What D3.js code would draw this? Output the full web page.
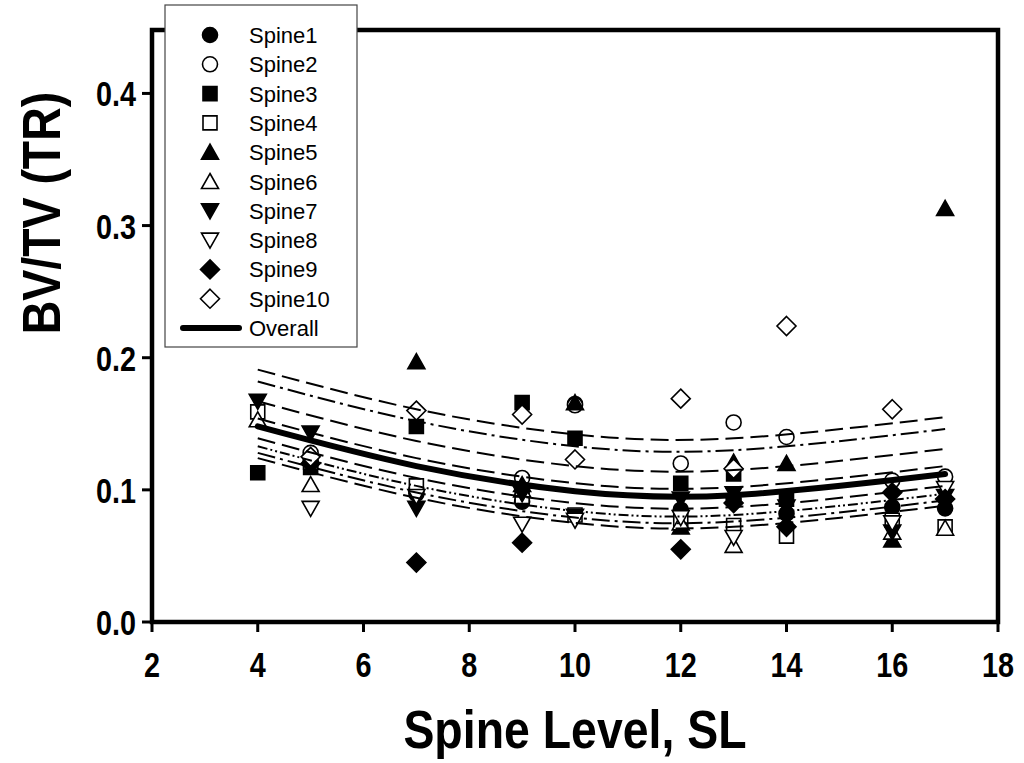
<!DOCTYPE html>
<html>
<head>
<meta charset="utf-8">
<script src="https://cdn.jsdelivr.net/npm/d3@7"></script>
<style>
  body { margin: 0; background: #fff; }
  text { font-family: "Liberation Sans", Arial, sans-serif; }
</style>
</head>
<body>
<div id="chart"></div>
<script>
// spine levels measured
var levels = [4, 5, 7, 9, 10, 12, 13, 14, 16, 17];

// BV/TV per spine at each level (null = no point)
var spine1  = [null, 0.121, 0.097, 0.091, 0.165, 0.085, 0.093, 0.082, 0.087, 0.086];
var spine2  = [null, 0.128, 0.100, 0.109, 0.164, 0.120, 0.151, 0.140, 0.107, 0.110];
var spine3  = [0.113, 0.117, 0.148, 0.166, 0.139, 0.105, 0.112, 0.093, null, null];
var spine4  = [0.159, 0.121, 0.103, 0.095, 0.081, 0.077, 0.073, 0.065, 0.077, 0.072];
var spine5  = [null, null, 0.197, 0.104, 0.166, 0.072, 0.121, 0.120, 0.062, 0.313];
var spine6  = [0.153, 0.104, null, 0.100, null, 0.075, 0.058, null, 0.068, 0.071];
var spine7  = [0.167, 0.143, 0.086, 0.097, 0.080, 0.093, 0.097, 0.087, 0.068, 0.095];
var spine8  = [null, 0.086, 0.095, 0.074, 0.077, 0.079, 0.064, null, 0.075, 0.101];
var spine9  = [null, 0.120, 0.045, 0.060, null, 0.055, 0.090, 0.072, 0.098, 0.093];
var spine10 = [null, 0.125, 0.160, 0.157, 0.123, 0.169, 0.116, 0.224, 0.161, null];

var spineNames = ["Spine1", "Spine2", "Spine3", "Spine4", "Spine5",
                  "Spine6", "Spine7", "Spine8", "Spine9", "Spine10"];
var spineValues = [spine1, spine2, spine3, spine4, spine5,
                   spine6, spine7, spine8, spine9, spine10];

// fitted curves read at these levels
var fitX = [4, 7, 10, 13, 17];
var overallFit = [0.148, 0.118, 0.099, 0.096, 0.112];
var upper1 = [0.191, 0.161, 0.142, 0.139, 0.155];
var upper2 = [0.182, 0.152, 0.133, 0.130, 0.146];
var upper3 = [0.167, 0.137, 0.118, 0.115, 0.131];
var upper4 = [0.154, 0.124, 0.105, 0.102, 0.118];
var lower1 = [0.139, 0.109, 0.090, 0.087, 0.103];
var lower2 = [0.133, 0.103, 0.084, 0.081, 0.097];
var lower3 = [0.128, 0.098, 0.079, 0.076, 0.092];
var lower4 = [0.124, 0.094, 0.075, 0.072, 0.088];

var xTicks = [2, 4, 6, 8, 10, 12, 14, 16, 18];
var yTicks = [0.0, 0.1, 0.2, 0.3, 0.4];

var width = 1024, height = 763;
var margin = {top: 30, right: 26, bottom: 141, left: 152};
var chartWidth = width - margin.left - margin.right;
var chartHeight = height - margin.top - margin.bottom;

var svg = d3.select("#chart").append("svg")
    .attr("width", width)
    .attr("height", height);

var g = svg.append("g")
    .attr("transform", `translate(${margin.left},${margin.top})`);

var x = d3.scaleLinear().domain([2, 18]).range([0, chartWidth]);
var y = d3.scaleLinear().domain([0, 0.448]).range([chartHeight, 0]);

// marker shapes
function shapePath(kind) {
    var p = d3.path();
    if (kind === "circle") {
        p.arc(0, 0, 7.5, 0, 2 * Math.PI);
    } else if (kind === "square") {
        p.rect(-7, -7, 14, 14);
    } else if (kind === "up") {
        p.moveTo(0, -8); p.lineTo(8.5, 7); p.lineTo(-8.5, 7); p.closePath();
    } else if (kind === "down") {
        p.moveTo(0, 8); p.lineTo(8.5, -7); p.lineTo(-8.5, -7); p.closePath();
    } else {
        p.moveTo(0, -9.5); p.lineTo(9.5, 0); p.lineTo(0, 9.5); p.lineTo(-9.5, 0); p.closePath();
    }
    return p.toString();
}
var shapes = ["circle", "circle", "square", "square", "up", "up", "down", "down", "diamond", "diamond"];
var filled = [true, false, true, false, true, false, true, false, true, false];

// points
spineValues.forEach(function(vals, i) {
    var pts = levels.map((l, j) => ({x: l, y: vals[j]})).filter(d => d.y !== null);
    g.selectAll(".s" + i)
        .data(pts)
        .enter().append("path")
        .attr("class", "s" + i)
        .attr("d", shapePath(shapes[i]))
        .attr("transform", d => `translate(${x(d.x)},${y(d.y)})`)
        .attr("fill", filled[i] ? "#000" : "#fff")
        .attr("stroke", "#000")
        .attr("stroke-width", 1.6);
});

// regression lines
var line = d3.line()
    .x(d => x(d[0]))
    .y(d => y(d[1]))
    .curve(d3.curveNatural);

var bands = [
    {v: upper1, dash: "18,7"},
    {v: upper2, dash: "18,5,3,5"},
    {v: upper3, dash: "18,7"},
    {v: upper4, dash: "18,7"},
    {v: lower1, dash: "18,7"},
    {v: lower2, dash: "10,3,2,3,2,3"},
    {v: lower3, dash: "18,5,3,5"},
    {v: lower4, dash: "18,7"}
];
bands.forEach(function(b) {
    g.append("path")
        .datum(fitX.map((fx, j) => [fx, b.v[j]]))
        .attr("d", line)
        .attr("fill", "none")
        .attr("stroke", "#000")
        .attr("stroke-width", 2)
        .attr("stroke-dasharray", b.dash);
});
g.append("path")
    .datum(fitX.map((fx, j) => [fx, overallFit[j]]))
    .attr("d", line)
    .attr("fill", "none")
    .attr("stroke", "#000")
    .attr("stroke-width", 6)
    .attr("stroke-linecap", "round");

// frame
g.append("rect")
    .attr("x", 0).attr("y", 0)
    .attr("width", chartWidth).attr("height", chartHeight)
    .attr("fill", "none")
    .attr("stroke", "#000")
    .attr("stroke-width", 4.5);

// ticks
g.selectAll(".xtick").data(xTicks).enter().append("line")
    .attr("x1", d => x(d)).attr("x2", d => x(d))
    .attr("y1", chartHeight).attr("y2", chartHeight + 10)
    .attr("stroke", "#000").attr("stroke-width", 3);
g.selectAll(".ytick").data(yTicks).enter().append("line")
    .attr("x1", -10).attr("x2", 0)
    .attr("y1", d => y(d)).attr("y2", d => y(d))
    .attr("stroke", "#000").attr("stroke-width", 3);

g.selectAll(".xlab").data(xTicks).enter().append("text")
    .attr("transform", d => `translate(${x(d)},${chartHeight + 55}) scale(0.8,1)`)
    .attr("text-anchor", "middle")
    .attr("font-size", 36).attr("font-weight", "bold")
    .text(d => d);
g.selectAll(".ylab").data(yTicks).enter().append("text")
    .attr("transform", d => `translate(-16,${y(d) + 13}) scale(0.8,1)`)
    .attr("text-anchor", "end")
    .attr("font-size", 36).attr("font-weight", "bold")
    .text(d => d.toFixed(1));

// axis titles
svg.append("text")
    .attr("transform", `translate(575,748) scale(0.86,1)`)
    .attr("text-anchor", "middle")
    .attr("font-size", 54).attr("font-weight", "bold")
    .text("Spine Level, SL");
svg.append("text")
    .attr("transform", `translate(60,213) rotate(-90) scale(0.86,1)`)
    .attr("text-anchor", "middle")
    .attr("font-size", 54).attr("font-weight", "bold")
    .text("BV/TV (TR)");

// legend
var legend = svg.append("g").attr("transform", "translate(165,5)");
legend.append("rect")
    .attr("width", 192).attr("height", 342)
    .attr("fill", "#fff")
    .attr("stroke", "#444")
    .attr("stroke-width", 1.2);
spineNames.forEach(function(name, i) {
    var row = legend.append("g").attr("transform", `translate(0,${30 + i * 29.3})`);
    row.append("path")
        .attr("d", shapePath(shapes[i]))
        .attr("transform", "translate(45,0)")
        .attr("fill", filled[i] ? "#000" : "#fff")
        .attr("stroke", "#000")
        .attr("stroke-width", 1.6);
    row.append("text")
        .attr("x", 84).attr("y", 8)
        .attr("font-size", 22)
        .text(name);
});
var lastRow = legend.append("g").attr("transform", `translate(0,${30 + 10 * 29.3})`);
lastRow.append("line")
    .attr("x1", 18).attr("x2", 74)
    .attr("stroke", "#000").attr("stroke-width", 6)
    .attr("stroke-linecap", "round");
lastRow.append("text")
    .attr("x", 84).attr("y", 8)
    .attr("font-size", 22)
    .text("Overall");
</script>
</body>
</html>
